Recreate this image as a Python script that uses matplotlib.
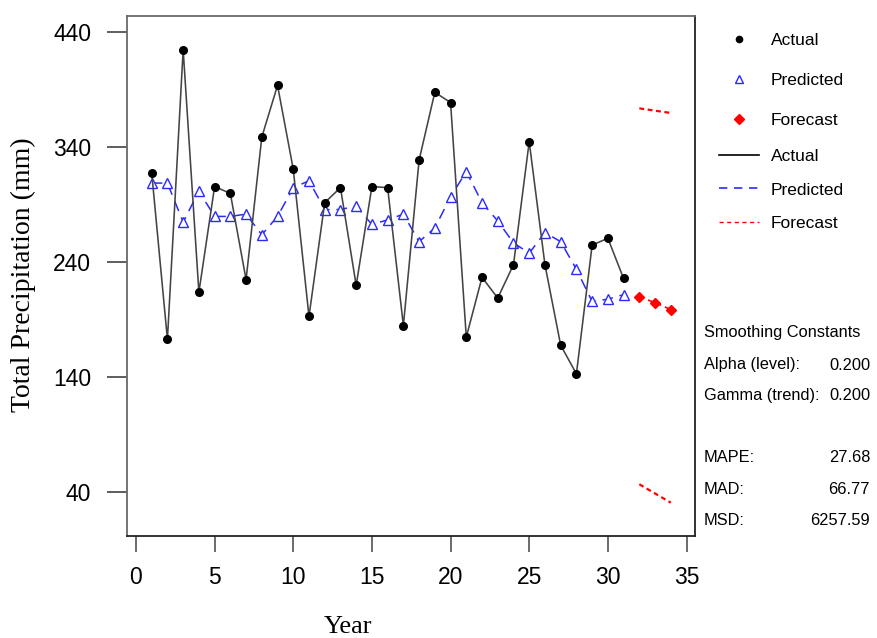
import matplotlib
matplotlib.use('Agg')
import matplotlib.pyplot as plt
from matplotlib.lines import Line2D

plt.rcParams['font.family'] = ['Liberation Sans', 'DejaVu Sans']

# ---------------- data ----------------
years = list(range(1, 32))
actual = [318, 173, 425, 214, 306, 300, 225, 349, 394, 321, 193, 292, 305, 220, 306,
          305, 185, 329, 388, 379, 175, 227, 209, 238, 345, 238, 168, 143, 255, 261, 226]
predicted = [309, 309, 275, 302, 280, 280, 282, 264, 280, 305, 311, 286, 286, 289, 273,
             277, 282, 258, 270, 297, 319, 292, 276, 257, 248, 266, 258, 234, 206, 208, 212]
forecast_years = [32, 33, 34]
forecast = [210, 205, 199]
upper = [374, 372, 370]
lower = [47, 39, 31]

xticks = [0, 5, 10, 15, 20, 25, 30, 35]
yticks = [40, 140, 240, 340, 440]

stats_rows = [("Alpha (level):", "0.200"), ("Gamma (trend):", "0.200")]
accuracy_rows = [("MAPE:", "27.68"), ("MAD:", "66.77"), ("MSD:", "6257.59")]

# ---------------- figure ----------------
W, H = 877, 638
fig = plt.figure(figsize=(W / 100, H / 100), dpi=100)
ax = fig.add_axes([127 / W, 1 - 536 / H, (695 - 127) / W, (536 - 15.7) / H])

actual_col = '#444444'
blue = '#2a2aff'
red = '#ff0000'

ax.plot(years, predicted, color=blue, lw=1.1, linestyle=(0, (7, 4.5)),
        marker='^', markersize=7, markerfacecolor='white', markeredgecolor=blue,
        markeredgewidth=1.0, zorder=3)
ax.plot(years, actual, color=actual_col, lw=1.15, marker='o', markersize=5.5,
        markerfacecolor='black', markeredgecolor='black', zorder=4)
ax.plot(forecast_years, forecast, color=red, lw=1.2, linestyle=(0, (3, 2.5)),
        marker='D', markersize=5, markerfacecolor=red, markeredgecolor=red, zorder=4)
ax.plot(forecast_years, upper, color=red, lw=1.6, linestyle=(0, (2.2, 1.6)), zorder=4)
ax.plot(forecast_years, lower, color=red, lw=1.6, linestyle=(0, (2.2, 1.6)), zorder=4)

ax.set_xlim(-0.57, 35.54)
ax.set_ylim(2, 454.6)
ax.set_xticks(xticks)
ax.set_yticks(yticks)
ax.tick_params(axis='y', length=14.4, pad=11.5, labelsize=16.5, width=1.1, color='#333333')
ax.tick_params(axis='x', length=11.5, pad=10, labelsize=16.5, width=1.1, color='#444444')
for s in ['left', 'top']:
    ax.spines[s].set_color('#6a6a6a')
    ax.spines[s].set_linewidth(1.3)
for s in ['right', 'bottom']:
    ax.spines[s].set_color('#222222')
    ax.spines[s].set_linewidth(1.3)

fig.text(23 / W, 1 - 275 / H, 'Total Precipitation (mm)', rotation=90,
         family=['Liberation Serif', 'DejaVu Serif'], size=20, ha='center', va='center')
fig.text(348 / W, 1 - 627 / H, 'Year', family=['Liberation Serif', 'DejaVu Serif'],
         size=19, ha='center', va='center')

# ---------------- legends ----------------
mk_handles = [
    Line2D([], [], linestyle='none', marker='o', markersize=4.5, color='black'),
    Line2D([], [], linestyle='none', marker='^', markersize=5.5, markerfacecolor='white',
           markeredgecolor=blue, markeredgewidth=1.0),
    Line2D([], [], linestyle='none', marker='D', markersize=5, color=red),
]
ln_handles = [
    Line2D([], [], color='black', lw=1.2),
    Line2D([], [], color=blue, lw=1.2, linestyle=(0, (5, 4))),
    Line2D([], [], color=red, lw=1.0, linestyle=(0, (3, 2.5))),
]
labels = ['Actual', 'Predicted', 'Forecast']
leg_fs = 12.5
leg1 = fig.legend(mk_handles, labels, loc='upper left',
                  bbox_to_anchor=(719 / W, 1 - 32.5 / H), frameon=False, fontsize=leg_fs,
                  handlelength=2.3, handletextpad=0.69, labelspacing=1.43,
                  borderpad=0, borderaxespad=0)
leg2 = fig.legend(ln_handles, labels, loc='upper left',
                  bbox_to_anchor=(719 / W, 1 - 149 / H), frameon=False, fontsize=leg_fs,
                  handlelength=2.3, handletextpad=0.69, labelspacing=1.05,
                  borderpad=0, borderaxespad=0)

# ---------------- statistics text ----------------
st_fs = 11.8
fig.text(704 / W, 1 - 333 / H, 'Smoothing Constants', size=st_fs, ha='left', va='center')
for i, (k, v) in enumerate(stats_rows):
    y = 365 + 30.5 * i
    fig.text(704 / W, 1 - y / H, k, size=st_fs, ha='left', va='center')
    fig.text(870 / W, 1 - y / H, v, size=st_fs, ha='right', va='center')
for i, (k, v) in enumerate(accuracy_rows):
    y = 458 + 31.3 * i
    fig.text(704 / W, 1 - y / H, k, size=st_fs, ha='left', va='center')
    fig.text(870 / W, 1 - y / H, v, size=st_fs, ha='right', va='center')

fig.savefig('out.png', dpi=100)
